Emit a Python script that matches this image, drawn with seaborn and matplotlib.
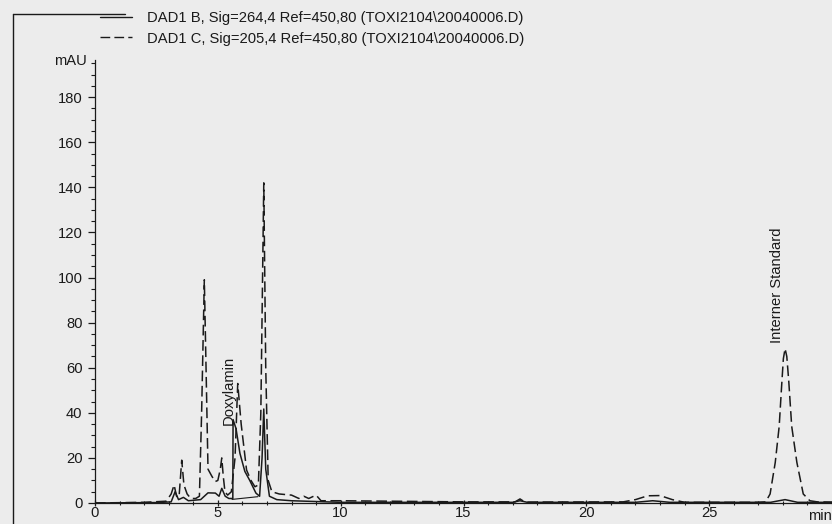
import numpy as np
import pandas as pd
import matplotlib
matplotlib.use("Agg")
import matplotlib.pyplot as plt
import seaborn as sns
from matplotlib.lines import Line2D
from matplotlib.ticker import MultipleLocator

# DAD1 C (205 nm) - dashed trace
time_c = [0.0, 2.0, 2.9, 3.1, 3.22, 3.32, 3.42, 3.53, 3.62, 3.75, 3.9, 4.1, 4.25, 4.34, 4.45,
          4.52, 4.6, 4.75, 4.89, 5.0, 5.1, 5.16, 5.22, 5.29, 5.4, 5.55, 5.7, 5.81, 5.95, 6.17,
          6.35, 6.51, 6.65, 6.75, 6.87, 6.95, 7.05, 7.2, 7.5, 8.0, 8.3, 8.5, 8.7, 9.0, 9.2,
          10.0, 12.0, 15.0, 17.1, 17.3, 17.5, 21.5, 22.0, 22.5, 23.0, 23.5, 24.0, 27.0,
          27.3, 27.48, 27.69, 27.85, 27.95, 28.02, 28.09, 28.16, 28.24, 28.36, 28.57,
          28.83, 29.1, 29.4, 30.0]
mau_c = [0.0, 0.3, 0.8, 4, 8, 3, 2.5, 19, 8, 4, 2, 2, 3, 40, 99,
         60, 15, 12, 9.5, 10, 15, 20, 12, 5, 3.5, 5, 20, 53, 35, 14.6,
         10, 7.2, 8, 40, 142, 60, 10, 5, 4, 3.5, 2, 3, 2, 3.5, 1,
         1, 0.8, 0.5, 0.5, 1.8, 0.4, 0.5, 1.5, 3.2, 3.3, 1.5, 0.3, 0.3,
         0.5, 4, 18, 34, 52, 64, 68.5, 65, 54, 34, 18,
         4, 1, 0.5, 0.4]

# DAD1 B (264 nm) - solid trace
time_b = [0.0, 2.5, 3.1, 3.26, 3.4, 3.6, 3.8, 4.3, 4.6, 4.9, 5.05, 5.16, 5.3, 5.45, 5.61,
          5.62, 5.74, 5.9, 6.1, 6.3, 6.55, 6.7, 6.8, 6.87, 6.95, 7.1, 7.4, 8.0, 10.0,
          17.0, 17.3, 17.6, 22.0, 22.7, 23.4, 27.5, 28.09, 28.6, 30.0]
mau_b = [0.0, 0.2, 0.5, 5.0, 1.5, 2.5, 1.0, 1.5, 4.5, 4.4, 3.0, 6.5, 3.0, 2.0, 2.0,
         37, 33, 22, 14, 10, 4.4, 3, 20, 41.7, 15, 3, 1.5, 1.0, 0.3,
         0.3, 1.0, 0.3, 0.3, 1.0, 0.3, 0.3, 1.5, 0.3, 0.3]

# integration baseline under the Doxylamin peak
base_t = [5.58, 6.63]
base_mau = [1.6, 2.8]

legend_labels = ["DAD1 B, Sig=264,4 Ref=450,80 (TOXI2104\\20040006.D)",
                 "DAD1 C, Sig=205,4 Ref=450,80 (TOXI2104\\20040006.D)"]

sns.set_style("ticks")
plt.rcParams["font.family"] = ["Liberation Sans", "DejaVu Sans"]

fs = 10.6
ink = "#1a1a1a"
paper = "#ececec"
dash = (0, (7, 3))

fig = plt.figure(figsize=(8.32, 5.24), dpi=100, facecolor=paper)
ax = fig.add_axes([95 / 832, 21 / 524, 737 / 832, 443 / 524])
ax.set_facecolor(paper)

df_c = pd.DataFrame({"t": time_c, "mAU": mau_c})
df_b = pd.DataFrame({"t": time_b, "mAU": mau_b})
df_base = pd.DataFrame({"t": base_t, "mAU": base_mau})

sns.lineplot(data=df_c, x="t", y="mAU", ax=ax, color=ink, lw=1.1,
             estimator=None, sort=False, linestyle=dash)
sns.lineplot(data=df_b, x="t", y="mAU", ax=ax, color=ink, lw=1.1,
             estimator=None, sort=False)
sns.lineplot(data=df_base, x="t", y="mAU", ax=ax, color=ink, lw=0.8,
             estimator=None, sort=False)

ax.set_xlim(0, 30.0)
ax.set_ylim(0, 196.5)
ax.set_xticks([0, 5, 10, 15, 20, 25])
ax.set_yticks(np.arange(0, 181, 20))
ax.xaxis.set_minor_locator(MultipleLocator(1))
ax.yaxis.set_minor_locator(MultipleLocator(5))
ax.tick_params(axis="both", which="major", length=5, width=0.9, color=ink,
               labelcolor=ink, labelsize=fs)
ax.tick_params(axis="both", which="minor", length=3, width=0.8, color=ink)
ax.tick_params(axis="x", which="both", direction="inout", pad=0)
ax.tick_params(axis="y", which="both", direction="out", pad=4)
ax.set_xlabel("")
ax.set_ylabel("")
sns.despine(ax=ax, top=True, right=True)
for s in ["left", "bottom"]:
    ax.spines[s].set_color(ink)
    ax.spines[s].set_linewidth(0.9)

ax.text(-0.011, 196, "mAU", transform=ax.get_yaxis_transform(), ha="right",
        va="center", color=ink, fontsize=fs)
ax.text(1.0, -0.014, "min", transform=ax.transAxes, ha="right", va="top",
        color=ink, fontsize=fs)

ax.text(5.45, 34.5, "Doxylamin", rotation=90, ha="center", va="bottom",
        color=ink, fontsize=fs)
ax.text(27.76, 71, "Interner Standard", rotation=90, ha="center", va="bottom",
        color=ink, fontsize=fs)

handles = [Line2D([], [], color=ink, lw=1.0),
           Line2D([], [], color=ink, lw=1.0, linestyle=dash)]
fig.legend(handles, legend_labels, loc="upper left",
           bbox_to_anchor=(100 / 832, 1 - 11 / 524), frameon=False,
           handlelength=2.2, handletextpad=1.0, labelspacing=0.45,
           fontsize=fs, labelcolor=ink, borderaxespad=0, borderpad=0)

# scanned page frame
fig.add_artist(Line2D([13 / 832, 13 / 832], [0, 1 - 14 / 524],
                      transform=fig.transFigure, color=ink, lw=1.0))
fig.add_artist(Line2D([13 / 832, 125 / 832], [1 - 14 / 524, 1 - 14 / 524],
                      transform=fig.transFigure, color=ink, lw=1.0))

fig.savefig("out.png", dpi=100, facecolor=paper)
